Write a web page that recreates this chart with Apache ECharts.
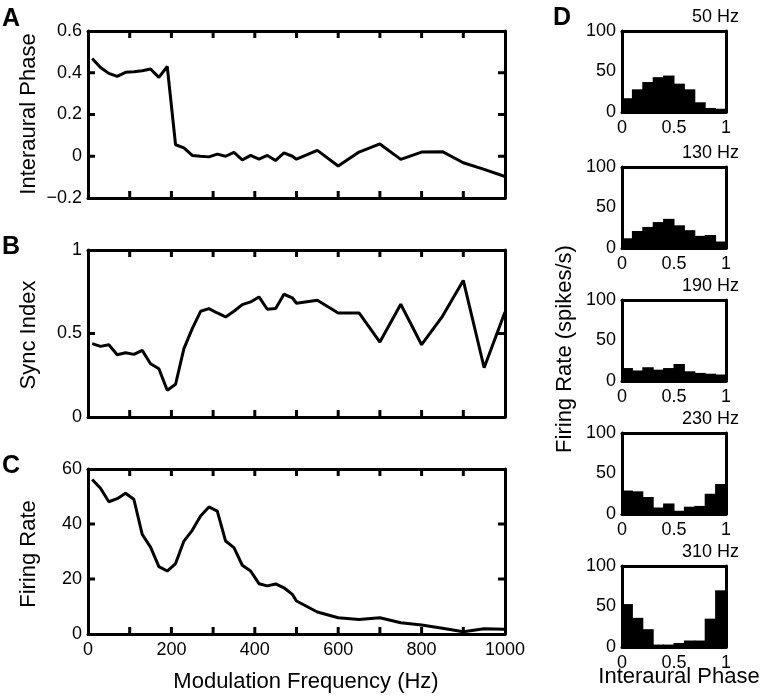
<!DOCTYPE html>
<html>
<head>
<meta charset="utf-8">
<script src="https://cdn.jsdelivr.net/npm/echarts@6/dist/echarts.min.js"></script>
<style>html,body{margin:0;padding:0;background:#fff}#c{width:765px;height:698px}</style>
</head>
<body>
<div id="c"></div>
<script>
// ---- data ----
const freqs = [10,30,50,70,90,110,130,150,170,190,210,230,250,270,290,310,330,350,370,390,410,430,450,470,490,500,550,600,650,700,750,800,850,900,950,1000];
const interauralPhase = [0.468,0.425,0.397,0.383,0.402,0.405,0.41,0.418,0.378,0.43,0.055,0.04,0.004,0.0,-0.003,0.01,0.0,0.018,-0.017,0.004,-0.014,0.004,-0.02,0.016,0.0,-0.014,0.028,-0.047,0.02,0.059,-0.015,0.02,0.022,-0.031,-0.063,-0.097];
const syncIndex = [0.439,0.423,0.433,0.373,0.385,0.375,0.399,0.319,0.289,0.16,0.196,0.409,0.529,0.633,0.649,0.623,0.599,0.633,0.673,0.689,0.719,0.645,0.649,0.735,0.714,0.681,0.699,0.623,0.623,0.449,0.675,0.433,0.603,0.818,0.295,0.629];
const firingRate = [56.2,53,48.1,49.2,51.2,49,36.2,31.6,24.5,22.9,25.6,33.8,37.7,42.9,46.2,44.7,33.8,31.4,25,22.9,18.3,17.5,18.2,16.8,14.4,12,8,5.9,5.3,5.9,4.1,3.3,2.1,0.8,1.9,1.7];

const freqTicks = [0,100,200,300,400,500,600,700,800,900,1000];
const phaseTicks = [-0.2,0,0.2,0.4,0.6];
const syncTicks = [0,0.5,1];
const rateTicks = [0,20,40,60];

const binStarts = [0,0.1,0.2,0.3,0.4,0.5,0.6,0.7,0.8,0.9];
const histTitles = ['50 Hz','130 Hz','190 Hz','230 Hz','310 Hz'];
const hist50  = [17,28,37,43,45,35,28,12,5,4];
const hist130 = [12,21,26,32,36,28,22,15,16,8];
const hist190 = [16,13,17,14,16,21,12,10,9,8];
const hist230 = [29,28,21,8,13,4,9,10,25,37];
const hist310 = [53,36,22,3,3,5,8,8,35,70];
const histValues = [hist50,hist130,hist190,hist230,hist310];

const panelLetters = ['A','B','C','D'];
const yTitles = ['Interaural Phase','Sync Index','Firing Rate'];
const xTitle = 'Modulation Frequency (Hz)';
const histYTitle = 'Firing Rate (spikes/s)';
const histXTitle = 'Interaural Phase';

// ---- layout ----
const FONT = '"Liberation Sans", Arial, Helvetica, sans-serif';
const lineGrids = [
  {left:88, top:31, width:417, height:167},
  {left:88, top:250, width:417, height:167},
  {left:88, top:469, width:417, height:165}
];
const histTops = [31,167,300,433,566];
const histGrid = {left:622, width:104, height:81};
const TICK_LEN = 7;

const grids = [], xAxes = [], yAxes = [], series = [];
const mkLine = () => ({show:true, onZero:false, lineStyle:{color:'#000', width:3}});
const mkTick = () => ({show:false});
const mkLabel = (extra) => Object.assign({show:true, color:'#000', fontSize:18, fontFamily:FONT}, extra || {});

function addAxes(gi, xcfg, ycfg) {
  xAxes.push(Object.assign({type:'value', gridIndex:gi, position:'bottom', splitLine:{show:false}, axisLabel:{show:false}}, xcfg, {axisLine:mkLine(), axisTick:mkTick()}));
  xAxes.push({type:'value', gridIndex:gi, position:'top', splitLine:{show:false}, axisLabel:{show:false}, min:xcfg.min, max:xcfg.max, interval:xcfg.interval, axisLine:mkLine(), axisTick:mkTick()});
  yAxes.push(Object.assign({type:'value', gridIndex:gi, position:'left', splitLine:{show:false}, axisLabel:{show:false}}, ycfg, {axisLine:mkLine(), axisTick:mkTick()}));
  yAxes.push({type:'value', gridIndex:gi, position:'right', splitLine:{show:false}, axisLabel:{show:false}, min:ycfg.min, max:ycfg.max, interval:ycfg.interval, axisLine:mkLine(), axisTick:mkTick()});
}
const minusFmt = v => String(v).replace('-', '\u2212');

const yCfgs = [
  {min:-0.2, max:0.6, interval:0.2},
  {min:0, max:1, interval:0.5},
  {min:0, max:60, interval:20}
];
const yTickSets = [phaseTicks, syncTicks, rateTicks];
const yDatas = [interauralPhase, syncIndex, firingRate];

// inward tick marks on all four sides, placed through the axis scales
function tickRender(params, api) {
  const cs = params.coordSys;
  const kind = api.value(2);
  const p = api.coord([api.value(0), api.value(1)]);
  const st = {stroke:'#000', lineWidth:3};
  if (kind === 0) {
    const yb = cs.y + cs.height, yt = cs.y;
    return {type:'group', children:[
      {type:'line', shape:{x1:p[0], y1:yb, x2:p[0], y2:yb - TICK_LEN}, style:st},
      {type:'line', shape:{x1:p[0], y1:yt, x2:p[0], y2:yt + TICK_LEN}, style:st}
    ]};
  }
  const xl = cs.x, xr = cs.x + cs.width;
  return {type:'group', children:[
    {type:'line', shape:{x1:xl, y1:p[1], x2:xl + TICK_LEN, y2:p[1]}, style:st},
    {type:'line', shape:{x1:xr, y1:p[1], x2:xr - TICK_LEN, y2:p[1]}, style:st}
  ]};
}

for (let i = 0; i < 3; i++) {
  grids.push(lineGrids[i]);
  const isLast = i === 2;
  const xc = {min:0, max:1000, interval:100};
  if (isLast) xc.axisLabel = mkLabel({margin:7, formatter: v => (v % 200 === 0 ? String(v) : '')});
  addAxes(i, xc,
    {min:yCfgs[i].min, max:yCfgs[i].max, interval:yCfgs[i].interval,
     axisLabel:mkLabel({margin:6, formatter:minusFmt})});
  series.push({type:'line', xAxisIndex:2*i, yAxisIndex:2*i, data: freqs.map((f, k) => [f, yDatas[i][k]]),
    symbol:'none', lineStyle:{color:'#000', width:3}, z:3});
  const tickData = freqTicks.filter(v => v > xc.min && v < xc.max).map(v => [v, yCfgs[i].min, 0])
    .concat(yTickSets[i].filter(v => v > yCfgs[i].min && v < yCfgs[i].max).map(v => [xc.min, v, 1]));
  series.push({type:'custom', xAxisIndex:2*i, yAxisIndex:2*i, data:tickData, renderItem:tickRender,
    silent:true, z:4});
}

// Panel D histograms
for (let h = 0; h < 5; h++) {
  const gi = 3 + h;
  grids.push({left:histGrid.left, top:histTops[h], width:histGrid.width, height:histGrid.height});
  addAxes(gi,
    {min:0, max:1, interval:0.5, axisLabel:mkLabel({margin:7})},
    {min:0, max:100, interval:50, axisLabel:mkLabel({margin:6})});
  const binW = binStarts[1] - binStarts[0];
  series.push({type:'custom', xAxisIndex:2*gi, yAxisIndex:2*gi,
    data: binStarts.map((b, k) => [b, histValues[h][k]]),
    renderItem: function(params, api) {
      const x0 = api.value(0), v = api.value(1);
      const p1 = api.coord([x0, v]);
      const p2 = api.coord([x0 + binW, 0]);
      return {type:'rect', shape:{x:p1[0] - 0.5, y:p1[1], width:p2[0]-p1[0] + 1, height:p2[1]-p1[1]},
        style:{fill:'#000'}};
    }});
}

// Text graphics
const graphics = [];
const letterPos = [[2,7],[2,235],[2,454],[553,6]];
panelLetters.forEach((l, i) => graphics.push({type:'text', left:letterPos[i][0], top:letterPos[i][1],
  style:{text:l, fontSize:25, fontWeight:'bold', fontFamily:FONT, fill:'#000'}}));
histTitles.forEach((t, h) => graphics.push({type:'text', right:765-739, top:histTops[h]-23,
  style:{text:t, fontSize:18, fontFamily:FONT, fill:'#000'}}));
const yTitlePos = [[29,114],[29,335],[29,554]];
yTitles.forEach((t, i) => graphics.push({type:'text', x:yTitlePos[i][0], y:yTitlePos[i][1], rotation:Math.PI/2,
  style:{text:t, fontSize:22, fontFamily:FONT, fill:'#000', align:'center', verticalAlign:'middle'}}));
graphics.push({type:'text', x:306, y:682,
  style:{text:xTitle, fontSize:22, fontFamily:FONT, fill:'#000', align:'center', verticalAlign:'middle'}});
graphics.push({type:'text', x:565, y:349, rotation:Math.PI/2,
  style:{text:histYTitle, fontSize:22, fontFamily:FONT, fill:'#000', align:'center', verticalAlign:'middle'}});
graphics.push({type:'text', x:679, y:677,
  style:{text:histXTitle, fontSize:22, fontFamily:FONT, fill:'#000', align:'center', verticalAlign:'middle'}});

const chart = echarts.init(document.getElementById('c'));
chart.setOption({
  animation:false,
  grid:grids, xAxis:xAxes, yAxis:yAxes, series:series, graphic:graphics
});
</script>
</body>
</html>
